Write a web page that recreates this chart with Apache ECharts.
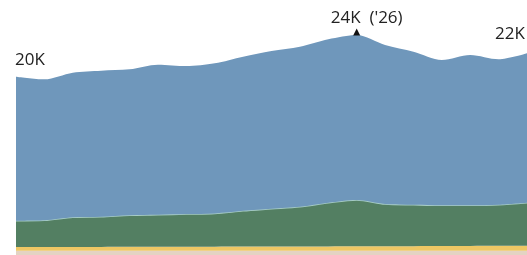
<!DOCTYPE html>
<html>
<head>
<meta charset="utf-8">
<script src="https://cdn.jsdelivr.net/npm/echarts@6/dist/echarts.min.js"></script>
<style>
html,body{margin:0;padding:0;background:#fff;}
#chart{width:527px;height:255px;}
</style>
</head>
<body>
<div id="chart"></div>
<script>
// years ('14 .. '32), values in thousands
var years = ['14','15','16','17','18','19','20','21','22','23','24','25','26','27','28','29','30','31','32'];
var beige = [3.45,3.45,3.45,3.45,3.45,3.45,3.45,3.45,3.45,3.45,3.45,3.45,3.45,3.45,3.45,3.45,3.45,3.45,3.45];
var yellow = [0.36,0.36,0.37,0.37,0.38,0.38,0.39,0.39,0.40,0.40,0.41,0.42,0.43,0.43,0.44,0.45,0.46,0.47,0.48];
var green = [2.50,2.54,2.82,2.87,3.00,3.05,3.11,3.17,3.41,3.60,3.78,4.15,4.40,4.02,3.94,3.88,3.87,3.91,4.09];
var blue = [13.72,13.43,13.77,13.91,13.90,14.29,14.09,14.29,14.67,15.02,15.24,15.57,15.72,15.15,14.58,13.84,14.31,13.85,14.23];

var chart = echarts.init(document.getElementById('chart'));

var totals = [], peak = 0;
years.forEach(function (y, i) {
	totals.push(beige[i] + yellow[i] + green[i] + blue[i]);
	if (totals[i] > totals[peak]) peak = i;
});
var last = years.length - 1;

var labelStyle = {
	show: true,
	position: 'top',
	color: '#222',
	fontSize: 17,
	fontFamily: 'Open Sans'
};

//top series data with labels on first, peak and last point
var blueData = blue.map(function (v, i) {
	var item = {value: v};
	if (i === 0) {
		item.label = Object.assign({}, labelStyle, {formatter: Math.round(totals[i]) + 'K', offset: [14, -3]});
	} else if (i === peak) {
		item.symbol = 'triangle';
		item.symbolSize = [7, 7];
		item.symbolOffset = [0, -3];
		item.itemStyle = {color: '#111'};
		item.label = Object.assign({}, labelStyle, {formatter: Math.round(totals[i]) + "K  ('" + years[i] + ')', offset: [10, 3]});
	} else if (i === last) {
		item.label = Object.assign({}, labelStyle, {formatter: Math.round(totals[i]) + 'K', offset: [-17, -6]});
	}
	return item;
});

function layer(name, data, color, line) {
	return {
		name: name,
		type: 'line',
		stack: 'all',
		smooth: 0.3,
		symbol: 'none',
		data: data,
		lineStyle: line || {width: 0},
		areaStyle: {color: color, opacity: 1},
		itemStyle: {color: color},
		z: 2
	};
}

var series = [
	layer('beige', beige, '#e4d3c3'),
	layer('yellow', yellow, '#eec764'),
	layer('green', green, '#537f62', {width: 1.5, color: '#a7cdc6'}),
	layer('blue', blue, '#6f97bb')
];
series[3].symbol = 'circle';
series[3].symbolSize = 0;
series[3].showSymbol = true;
series[3].data = blueData;
series[3].z = 3;

chart.setOption({
	animation: false,
	grid: {left: 16, right: 0, top: 0, bottom: 0},
	xAxis: {
		type: 'category',
		boundaryGap: false,
		data: years,
		show: false
	},
	yAxis: {
		type: 'value',
		min: 3.05,
		max: 27.33,
		show: false
	},
	series: series
});
</script>
</body>
</html>
